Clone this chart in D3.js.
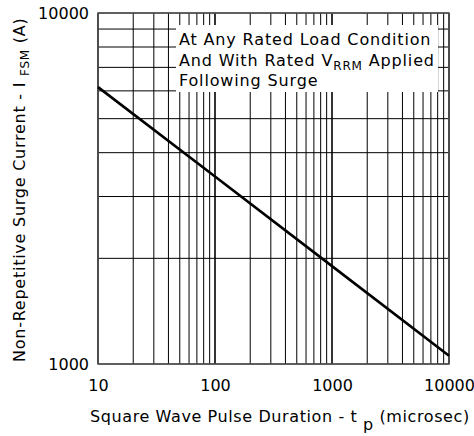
<!DOCTYPE html>
<html>
<head>
<meta charset="utf-8">
<script src="https://cdn.jsdelivr.net/npm/d3@7"></script>
<style>
  body { margin: 0; background: #fff; }
  svg { display: block; }
  text { font-family: "DejaVu Sans", sans-serif; fill: #000; }
</style>
</head>
<body>
<svg id="chart" width="474" height="436"></svg>
<script>
// Surge rating curve (microsec vs amps)
const pulseWidth = [10, 100, 1000, 10000];
const surgeCurrent = [6150, 3420, 1900, 1055];

const xTickValues = [10, 100, 1000, 10000];
const yTickValues = [1000, 10000];

// odd entries are subscripts
const noteLines = [
  ["At Any Rated Load Condition"],
  ["And With Rated V", "RRM", " Applied"],
  ["Following Surge"]
];

const width = 474,
  height = 436,
  padLeft = 98,
  padTop = 13,
  plotW = 351,
  plotH = 351;

const svg = d3.select("#chart");

const xScale = d3.scaleLog()
  .domain([10, 10000])
  .range([padLeft, padLeft + plotW]);

const yScale = d3.scaleLog()
  .domain([1000, 10000])
  .range([padTop + plotH, padTop]);

const isDecade = v => Math.abs(Math.log10(v) - Math.round(Math.log10(v))) < 1e-9;

// vertical grid
svg.append("g")
  .attr("class", "xgrid")
  .selectAll("line")
  .data(xScale.ticks())
  .enter()
  .append("line")
  .attr("x1", d => xScale(d))
  .attr("x2", d => xScale(d))
  .attr("y1", yScale.range()[0])
  .attr("y2", yScale.range()[1])
  .style("stroke", "#000")
  .style("stroke-width", d => isDecade(d) ? 1.6 : 1);

// horizontal grid
svg.append("g")
  .attr("class", "ygrid")
  .selectAll("line")
  .data(yScale.ticks())
  .enter()
  .append("line")
  .attr("x1", xScale.range()[0])
  .attr("x2", xScale.range()[1])
  .attr("y1", d => yScale(d))
  .attr("y2", d => yScale(d))
  .style("stroke", "#000")
  .style("stroke-width", 1);

// frame
svg.append("rect")
  .attr("x", padLeft)
  .attr("y", padTop)
  .attr("width", plotW)
  .attr("height", plotH)
  .style("fill", "none")
  .style("stroke", "#555")
  .style("stroke-width", 1.5);

// note box sits over the grid
const note = svg.append("g").attr("class", "note");
note.append("rect")
  .attr("x", 176)
  .attr("y", 25)
  .attr("width", 262)
  .attr("height", 67)
  .style("fill", "#fff");

noteLines.forEach((parts, i) => {
  const t = note.append("text")
    .attr("x", 179)
    .attr("y", 45 + i * 20.5)
    .style("font-size", "16px")
    .style("letter-spacing", "0.85px");
  parts.forEach((p, j) => {
    const sub = j % 2 === 1;
    t.append("tspan")
      .text(p)
      .attr("dy", j === 0 ? 0 : (sub ? 4 : -4))
      .style("font-size", sub ? "12px" : null);
  });
});

// surge curve
const line = d3.line()
  .x(d => xScale(d[0]))
  .y(d => yScale(d[1]));

svg.append("path")
  .datum(pulseWidth.map((p, i) => [p, surgeCurrent[i]]))
  .attr("d", line)
  .style("fill", "none")
  .style("stroke", "#000")
  .style("stroke-width", 2.6);

// axes: labels only
svg.append("g")
  .attr("class", "x axis")
  .attr("transform", "translate(0," + (padTop + plotH) + ")")
  .call(d3.axisBottom(xScale)
    .tickValues(xTickValues)
    .tickFormat(d3.format("d"))
    .tickSize(0)
    .tickPadding(16));

svg.append("g")
  .attr("class", "y axis")
  .attr("transform", "translate(" + padLeft + ",0)")
  .call(d3.axisLeft(yScale)
    .tickValues(yTickValues)
    .tickFormat(d3.format("d"))
    .tickSize(0)
    .tickPadding(9));

svg.selectAll(".axis .domain").remove();
svg.selectAll(".axis text")
  .style("font-family", "\"DejaVu Sans\", sans-serif")
  .style("font-size", "16px")
  .style("fill", "#000");

// x title
const xTitle = svg.append("text")
  .attr("x", 90)
  .attr("y", 422)
  .style("font-size", "16px")
  .style("letter-spacing", "0.6px");
xTitle.append("tspan").text("Square Wave Pulse Duration - t ");
xTitle.append("tspan").text("p").attr("dy", 8);
xTitle.append("tspan").text("  (microsec)").attr("dy", -8);

// y title
const yTitle = svg.append("text")
  .attr("transform", "translate(25,362) rotate(-90)")
  .style("font-size", "16px")
  .style("letter-spacing", "0.75px");
yTitle.append("tspan").text("Non-Repetitive Surge Current - I ");
yTitle.append("tspan").text("FSM").attr("dy", 4).style("font-size", "12px");
yTitle.append("tspan").text(" (A)").attr("dy", -4);
</script>
</body>
</html>
